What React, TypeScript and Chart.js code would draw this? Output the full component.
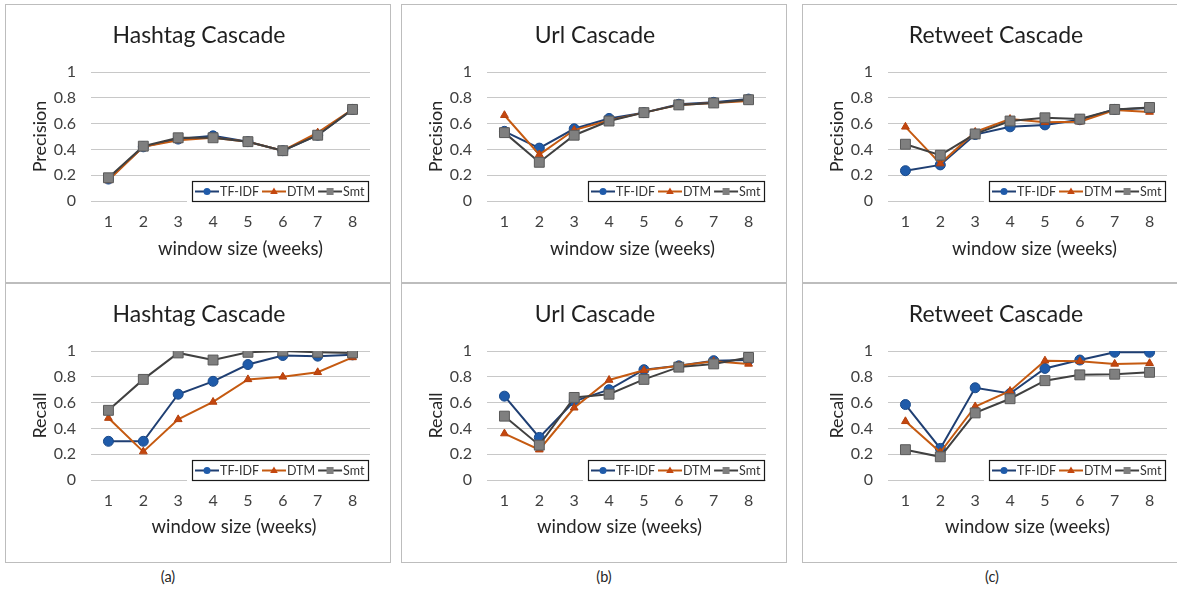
import React, { useEffect, useRef } from 'react';
import { Chart, registerables } from 'chart.js';

Chart.register(...registerables);

const weeks = ['1', '2', '3', '4', '5', '6', '7', '8'];
const seriesNames = ['TF-IDF', 'DTM', 'Smt'];

const hashtagPrecisionTfidf = [0.17, 0.42, 0.48, 0.505, 0.46, 0.39, 0.51, 0.71];
const hashtagPrecisionDtm = [0.16, 0.42, 0.47, 0.49, 0.46, 0.39, 0.53, 0.71];
const hashtagPrecisionSmt = [0.18, 0.425, 0.49, 0.49, 0.46, 0.39, 0.51, 0.71];

const hashtagRecallTfidf = [0.3, 0.3, 0.665, 0.765, 0.895, 0.965, 0.96, 0.97];
const hashtagRecallDtm = [0.48, 0.22, 0.47, 0.605, 0.78, 0.8, 0.835, 0.95];
const hashtagRecallSmt = [0.54, 0.78, 0.985, 0.93, 0.99, 1.0, 0.99, 0.985];

const urlPrecisionTfidf = [0.54, 0.41, 0.56, 0.64, 0.685, 0.75, 0.765, 0.79];
const urlPrecisionDtm = [0.665, 0.36, 0.55, 0.625, 0.685, 0.745, 0.76, 0.775];
const urlPrecisionSmt = [0.53, 0.3, 0.51, 0.62, 0.685, 0.745, 0.76, 0.785];

const urlRecallTfidf = [0.65, 0.33, 0.61, 0.7, 0.855, 0.885, 0.925, 0.93];
const urlRecallDtm = [0.36, 0.235, 0.56, 0.775, 0.85, 0.885, 0.92, 0.9];
const urlRecallSmt = [0.495, 0.27, 0.64, 0.665, 0.78, 0.875, 0.9, 0.95];

const retweetPrecisionTfidf = [0.235, 0.28, 0.515, 0.575, 0.59, 0.63, 0.71, 0.72];
const retweetPrecisionDtm = [0.575, 0.29, 0.535, 0.635, 0.61, 0.615, 0.705, 0.69];
const retweetPrecisionSmt = [0.44, 0.355, 0.52, 0.62, 0.645, 0.635, 0.71, 0.725];

const retweetRecallTfidf = [0.585, 0.245, 0.715, 0.67, 0.865, 0.93, 0.99, 0.99];
const retweetRecallDtm = [0.455, 0.215, 0.57, 0.69, 0.925, 0.92, 0.9, 0.905];
const retweetRecallSmt = [0.235, 0.18, 0.52, 0.63, 0.77, 0.815, 0.82, 0.835];

const xAxisTitle = 'window size (weeks)';

const FONT = 'Lato, "Open Sans", sans-serif';

const styles = [
  { line: '#1F3F73', fill: '#1F5BAA', border: '#1A4A8A', shape: 'circle', r: 5 },
  { line: '#C55A11', fill: '#C4470F', border: '#B4400C', shape: 'triangle', r: 4.5 },
  { line: '#404040', fill: '#7F7F7F', border: '#5A5A5A', shape: 'rect', r: 7 },
];

type PanelCfg = {
  left: number;
  top: number;
  height: number;
  title: string;
  yTitle: string;
  xTitleDx: number;
  xTitleY: number;
  series: number[][];
};

const PW = 386;

const panels: PanelCfg[] = [
  { left: 5, top: 4, height: 279, title: 'Hashtag Cascade', yTitle: 'Precision', xTitleDx: 10, xTitleY: 244.5, series: [hashtagPrecisionTfidf, hashtagPrecisionDtm, hashtagPrecisionSmt] },
  { left: 401, top: 4, height: 279, title: 'Url Cascade', yTitle: 'Precision', xTitleDx: 6, xTitleY: 244.5, series: [urlPrecisionTfidf, urlPrecisionDtm, urlPrecisionSmt] },
  { left: 802, top: 4, height: 279, title: 'Retweet Cascade', yTitle: 'Precision', xTitleDx: 7, xTitleY: 244.5, series: [retweetPrecisionTfidf, retweetPrecisionDtm, retweetPrecisionSmt] },
  { left: 5, top: 283, height: 280, title: 'Hashtag Cascade', yTitle: 'Recall', xTitleDx: 3.5, xTitleY: 243.5, series: [hashtagRecallTfidf, hashtagRecallDtm, hashtagRecallSmt] },
  { left: 401, top: 283, height: 280, title: 'Url Cascade', yTitle: 'Recall', xTitleDx: -7, xTitleY: 243.5, series: [urlRecallTfidf, urlRecallDtm, urlRecallSmt] },
  { left: 802, top: 283, height: 280, title: 'Retweet Cascade', yTitle: 'Recall', xTitleDx: 0, xTitleY: 243.5, series: [retweetRecallTfidf, retweetRecallDtm, retweetRecallSmt] },
];

function drawMarker(ctx: CanvasRenderingContext2D, shape: string, x: number, y: number, s: number) {
  ctx.beginPath();
  if (shape === 'circle') {
    ctx.arc(x, y, s, 0, Math.PI * 2);
  } else if (shape === 'triangle') {
    ctx.moveTo(x, y - s);
    ctx.lineTo(x + s * 0.95, y + s * 0.65);
    ctx.lineTo(x - s * 0.95, y + s * 0.65);
    ctx.closePath();
  } else {
    ctx.rect(x - s, y - s, 2 * s, 2 * s);
  }
  ctx.fill();
}

const titlePlugin = {
  id: 'panelTitle',
  afterDraw(chart: any) {
    const t = chart.options.plugins.panelTitle;
    if (!t) return;
    const ctx = chart.ctx as CanvasRenderingContext2D;
    const ca = chart.chartArea;
    ctx.save();
    ctx.font = `23px ${FONT}`;
    ctx.fillStyle = '#1f1f1f';
    ctx.textAlign = 'center';
    ctx.textBaseline = 'middle';
    ctx.fillText(t.text, chart.width / 2 + 1, 30.5);
    ctx.font = `18.5px ${FONT}`;
    ctx.fillStyle = '#262626';
    ctx.fillText(t.xTitle, (ca.left + ca.right) / 2 + t.xTitleDx, t.xTitleY);
    ctx.restore();
  },
};

const legendPlugin = {
  id: 'boxLegend',
  afterDraw(chart: any) {
    const ctx = chart.ctx as CanvasRenderingContext2D;
    const ca = chart.chartArea;
    ctx.save();
    ctx.font = `12.5px ${FONT}`;
    const lineW = 24;
    const padL = 3;
    const padR = 4;
    const gap = 3;
    const widths = seriesNames.map((n) => ctx.measureText(n).width);
    let total = padL + padR;
    widths.forEach((w, i) => {
      total += lineW + 1 + w + (i < widths.length - 1 ? gap : 0);
    });
    const h = 20;
    const right = Math.round(ca.right - 2);
    const bottom = Math.round(ca.bottom);
    const left = right - Math.round(total);
    const top = bottom - h;
    ctx.fillStyle = '#ffffff';
    ctx.fillRect(left - 5, top, right - left + 5, h + 1);
    ctx.strokeStyle = '#1a1a1a';
    ctx.lineWidth = 1.2;
    ctx.strokeRect(left + 0.5, top + 0.5, right - left, h);
    let x = left + padL;
    const cy = top + h / 2 + 0.5;
    seriesNames.forEach((name, i) => {
      const st = styles[i];
      ctx.strokeStyle = st.line;
      ctx.lineWidth = 2;
      ctx.beginPath();
      ctx.moveTo(x, cy);
      ctx.lineTo(x + lineW, cy);
      ctx.stroke();
      ctx.fillStyle = st.fill;
      drawMarker(ctx, st.shape, x + lineW / 2, cy, st.shape === 'rect' ? 3.5 : st.shape === 'triangle' ? 4 : 3.5);
      x += lineW + 1;
      ctx.fillStyle = '#333333';
      ctx.textAlign = 'left';
      ctx.textBaseline = 'middle';
      ctx.fillText(name, x, cy + 0.5);
      x += widths[i] + gap;
    });
    ctx.restore();
  },
};

function Panel({ cfg }: { cfg: PanelCfg }) {
  const ref = useRef<HTMLCanvasElement>(null);
  const cw = PW - 2;
  const ch = cfg.height - 2;
  useEffect(() => {
    if (!ref.current) return;
    const chart = new Chart(ref.current, {
      type: 'line',
      data: {
        labels: weeks,
        datasets: cfg.series.map((vals, i) => ({
          label: seriesNames[i],
          data: vals,
          borderColor: styles[i].line,
          backgroundColor: styles[i].fill,
          pointBackgroundColor: styles[i].fill,
          pointBorderColor: styles[i].border,
          pointBorderWidth: 1,
          pointStyle: styles[i].shape as any,
          pointRadius: styles[i].r,
          borderWidth: 2,
          tension: 0,
          fill: false,
          order: 3 - i,
        })),
      },
      options: {
        responsive: false,
        animation: false,
        devicePixelRatio: 1,
        layout: { padding: { left: 0, right: cw - 85 - 279, top: 67, bottom: 0 } },
        plugins: {
          legend: { display: false },
          tooltip: { enabled: false },
          title: { display: false },
          panelTitle: { text: cfg.title, xTitle: xAxisTitle, xTitleDx: cfg.xTitleDx, xTitleY: cfg.xTitleY },
        } as any,
        scales: {
          x: {
            offset: true,
            grid: { display: false, drawTicks: false },
            border: { display: false },
            ticks: { color: '#404040', font: { family: FONT, size: 16 }, padding: 11 },
            title: { display: false },
            afterFit: (scale: any) => {
              scale.height = ch - 67 - 129;
            },
          },
          y: {
            min: 0,
            max: 1,
            ticks: {
              stepSize: 0.2,
              color: '#404040',
              font: { family: FONT, size: 16 },
              padding: 15,
              callback: (v: any) => String(Math.round(Number(v) * 10) / 10),
            },
            grid: { color: '#c8c8c8', lineWidth: 1, drawTicks: false },
            border: { display: false },
            title: {
              display: true,
              text: cfg.yTitle,
              color: '#262626',
              font: { family: FONT, size: 18 },
              padding: { top: 23, bottom: 0 },
            },
            afterFit: (scale: any) => {
              scale.width = 85;
            },
          },
        },
      } as any,
      plugins: [titlePlugin, legendPlugin],
    });
    return () => chart.destroy();
  }, []);
  return (
    <div
      style={{
        position: 'absolute',
        left: cfg.left,
        top: cfg.top,
        width: PW,
        height: cfg.height,
        border: '1px solid #bdbdbd',
        boxSizing: 'border-box',
        background: '#fff',
      }}
    >
      <canvas ref={ref} width={cw} height={ch} style={{ display: 'block', width: cw, height: ch }} />
    </div>
  );
}

const captionStyle = (x: number): React.CSSProperties => ({
  position: 'absolute',
  left: x - 20,
  width: 40,
  top: 568,
  textAlign: 'center',
  font: `14.5px ${FONT}`,
  color: '#262626',
});

export default function App() {
  return (
    <div
      style={{
        position: 'fixed',
        left: 0,
        top: 0,
        width: 1177,
        height: 593,
        overflow: 'hidden',
        background: '#fff',
      }}
    >
      {panels.map((p, i) => (
        <Panel key={i} cfg={p} />
      ))}
      <div style={captionStyle(168)}>(a)</div>
      <div style={captionStyle(604)}>(b)</div>
      <div style={captionStyle(992)}>(c)</div>
    </div>
  );
}
